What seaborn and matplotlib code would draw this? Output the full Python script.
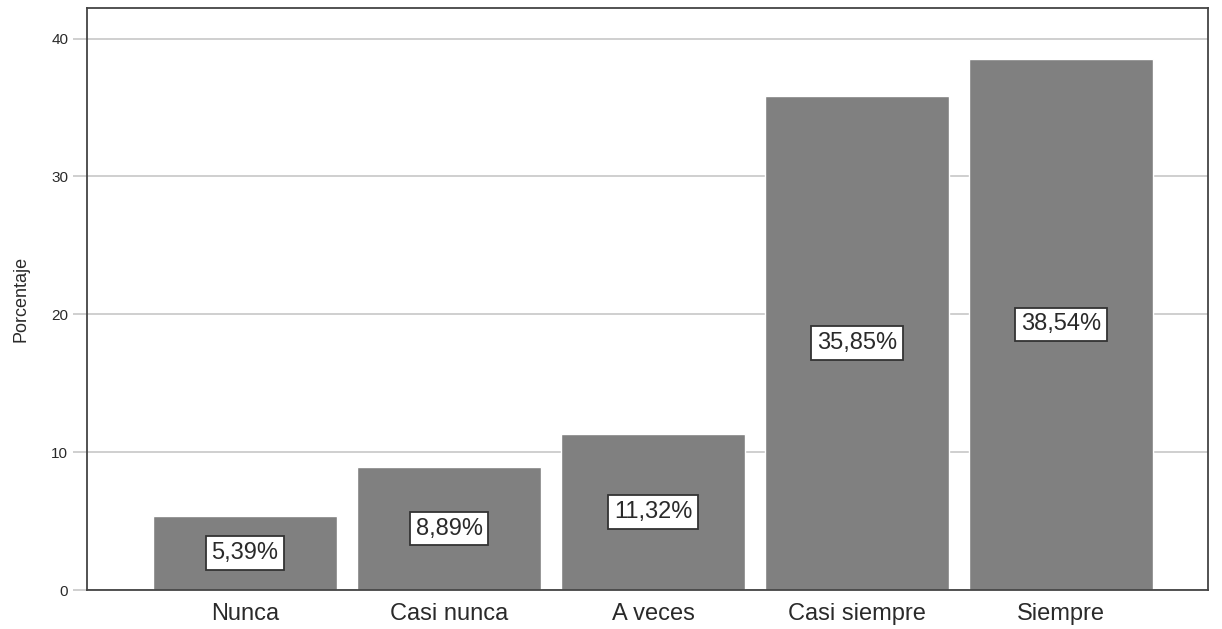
import matplotlib
matplotlib.use("Agg")
import matplotlib.pyplot as plt
import seaborn as sns
import pandas as pd

categorias = ["Nunca", "Casi nunca", "A veces", "Casi siempre", "Siempre"]
porcentajes = [5.39, 8.89, 11.32, 35.85, 38.54]
etiquetas = ["5,39%", "8,89%", "11,32%", "35,85%", "38,54%"]

df = pd.DataFrame({"cat": categorias, "pct": porcentajes})

sns.set_style("white")
plt.rcParams["font.family"] = ["Liberation Sans", "DejaVu Sans"]

fig = plt.figure(figsize=(12.22, 6.29), dpi=100)
ax = fig.add_axes([0.0712, 0.062, 0.9173, 0.925])

ax.set_axisbelow(True)
ax.yaxis.grid(True, color="#cccccc", linewidth=1.3)
sns.barplot(data=df, x="cat", y="pct", color="#808080", saturation=1,
            width=0.9, ax=ax, zorder=2)

# etiquetas de porcentaje en el centro de cada barra
for i, (v, lab) in enumerate(zip(porcentajes, etiquetas)):
    ax.text(i, v / 2, lab, ha="center", va="center", fontsize=17, color="#2a2a2a",
            bbox=dict(facecolor="white", edgecolor="#333333", linewidth=1.3,
                      boxstyle="square,pad=0.24"),
            zorder=3)

ax.set_xlim(-0.775, 4.72)
ax.set_ylim(0, 42.2)
ax.set_yticks([0, 10, 20, 30, 40])
ax.set_xlabel("")
ax.set_ylabel("Porcentaje", fontsize=13, color="#2a2a2a", labelpad=16)
ax.tick_params(axis="x", length=0, labelsize=17, labelcolor="#2a2a2a", pad=9)
ax.tick_params(axis="y", length=10, width=1.3, color="#cccccc", labelsize=11,
               labelcolor="#2a2a2a", left=True)
for s in ax.spines.values():
    s.set_color("#444444")
    s.set_linewidth(1.3)

fig.savefig("out.png", dpi=100)
